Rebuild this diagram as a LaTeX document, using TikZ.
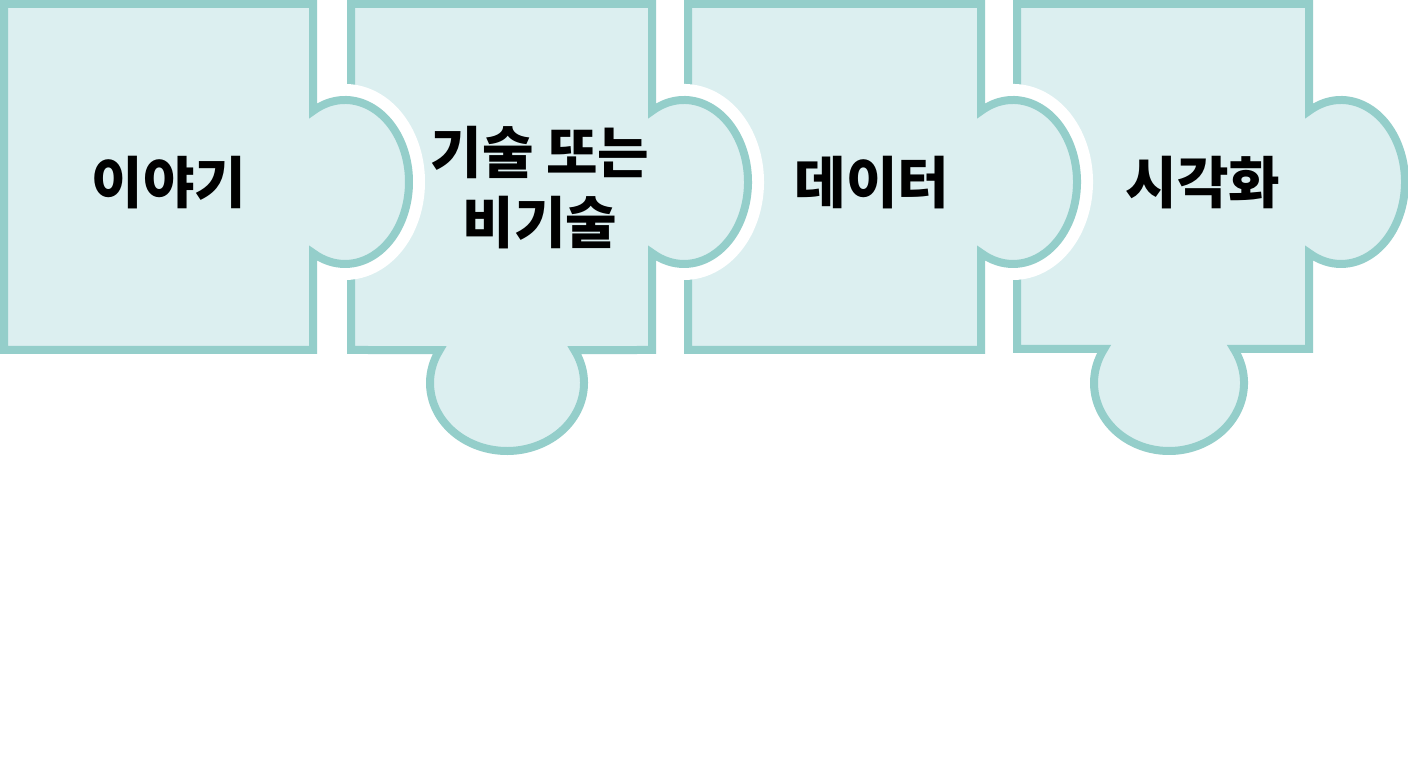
\documentclass[tikz,border=0pt]{standalone}
\usepackage{fontspec}
\newfontfamily\krfont{Noto Sans CJK KR}
\usetikzlibrary{calc}
\definecolor{pline}{RGB}{148,206,202}
\definecolor{pfill}{RGB}{220,239,240}
\begin{document}
\begin{tikzpicture}[x=1pt,y=1pt,
  piece/.style={fill=pfill, draw=pline, line width=8pt, line join=miter},
  halo/.style={draw=white, line width=32pt},
  lbl/.style={font=\krfont\bfseries\fontsize{56}{70}\selectfont, align=center, text=black, inner sep=0pt}]
\useasboundingbox (0,0) rectangle (1408,768);
\fill[white] (0,0) rectangle (1408,768);
% piece 4
\draw[piece] (1017,764) -- (1309,764)
  -- ($(1341,586)+(120:64 and 82)$) arc[start angle=120,end angle=-120,x radius=64,y radius=82]
  -- (1309,419)
  -- ($(1169,385)+(30:75 and 68)$) arc[start angle=30,end angle=-210,x radius=75,y radius=68]
  -- (1017,419) -- cycle;
% piece 3
\draw[halo] ($(1013,586)+(120:64 and 82)$) arc[start angle=120,end angle=-120,x radius=64,y radius=82];
\draw[piece] (688,764) -- (981,764)
  -- ($(1013,586)+(120:64 and 82)$) arc[start angle=120,end angle=-120,x radius=64,y radius=82]
  -- (981,418) -- (688,418) -- cycle;
% piece 2
\draw[halo] ($(684,586)+(120:64 and 82)$) arc[start angle=120,end angle=-120,x radius=64,y radius=82];
\draw[piece] (351,764) -- (652,764)
  -- ($(684,586)+(120:64 and 82)$) arc[start angle=120,end angle=-120,x radius=64,y radius=82]
  -- (652,418)
  -- ($(507,385)+(29:77 and 68)$) arc[start angle=29,end angle=-209,x radius=77,y radius=68]
  -- (351,418) -- cycle;
% piece 1
\draw[halo] ($(345,586)+(120:64 and 82)$) arc[start angle=120,end angle=-120,x radius=64,y radius=82];
\draw[piece] (4,764) -- (313,764)
  -- ($(345,586)+(120:64 and 82)$) arc[start angle=120,end angle=-120,x radius=64,y radius=82]
  -- (313,418) -- (4,418) -- cycle;
% labels
\node[lbl] (t1) at (169,585) {이야기};
\node[lbl] (t2) at (540,580) {기술 또는\\비기술};
\node[lbl] (t3) at (872,585) {데이터};
\node[lbl] (t4) at (1203,585) {시각화};
\end{tikzpicture}
\end{document}
